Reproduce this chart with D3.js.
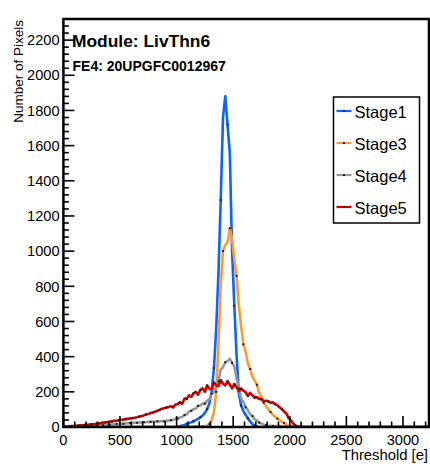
<!DOCTYPE html>
<html>
<head>
<meta charset="utf-8">
<script src="https://cdn.jsdelivr.net/npm/d3@7"></script>
<style>
  html, body { margin: 0; padding: 0; background: #fff; }
  svg { display: block; font-family: "Liberation Sans", Arial, sans-serif; }
</style>
</head>
<body>
<svg id="chart" width="430" height="466"></svg>
<script>
// ---- data ----
const binWidth = 20;
const xMax = 3230;
const yMax = 2320;
const seriesNames = ["Stage1", "Stage3", "Stage4", "Stage5"];
const seriesColors = ["#0a64ff", "#ff9a33", "#999999", "#d10000"];

const stage1 = [
  0,0,0,0,0,0,0,0,0,0, 0,0,0,0,0,0,0,0,0,0, 0,0,0,0,0,0,0,0,0,0,
  0,0,0,0,0,0,0,0,0,0, 0,0,0,0,0,0,0,0,0,0,
  2,4,8,11,17,22,27,33,39,46,
  55,66,80,102,135,205,335,560,880,1290,
  1760,1880,1720,1560,1010,690,410,190,122,92,
  68,50,30,16,7,2,
  0,0,0,0,0,0,0,0,0,0,0,0,0,0,0,0,0,0,0,0,0,0,0,0,0
];
const stage3 = [
  0,0,0,0,0,0,0,0,0,0, 0,0,0,0,0,0,0,0,0,0, 0,0,0,0,0,0,0,0,0,0,
  0,0,0,0,0,0,0,0,0,0, 0,0,0,0,0,0,0,0,0,0, 0,0,0,0,0,
  1,1,2,2,2,
  3,4,6,9,16,40,85,200,470,810,
  1000,1035,1050,1130,1070,950,860,690,575,470,
  430,360,330,285,265,240,195,172,138,120,
  100,85,70,58,48,40,30,22,14,8,
  4,2,1,
  0,0,0,0,0,0,0,0
];
const stage4 = [
  0,0,1,1,2,2,3,3,4,4,
  5,5,6,6,7,8,9,10,11,12,
  13,15,14,17,16,19,18,21,20,23,
  22,25,24,27,25,28,27,30,29,31,
  30,33,31,34,32,36,35,39,40,45,
  48,55,57,68,72,88,92,103,104,120,
  122,134,133,150,158,190,196,232,260,325,
  340,368,375,388,365,345,276,220,166,142,
  112,97,72,62,44,37,25,20,13,11,
  8,7,6,5,5,4,3,2,2,1,
  1,0,0,0,0,0,0,0,0,0,0
];
const stage5 = [
  2,3,4,5,6,7,8,10,10,11,
  12,14,15,16,19,20,22,25,26,28,
  31,32,35,36,38,41,42,45,46,49,
  50,53,55,59,62,66,71,74,79,83,
  87,93,97,104,106,111,113,118,112,128,
  130,140,132,162,160,180,172,192,200,184,
  210,220,200,236,218,214,252,238,232,266,
  246,236,260,242,220,244,226,204,218,208,
  198,178,194,180,168,170,160,158,146,150,
  146,138,140,130,124,112,102,88,76,52,
  38,20,8,3,1,
  0,0,0,0,0,0
];
const seriesValues = [stage1, stage3, stage4, stage5];

const xMajorTicks = [0, 500, 1000, 1500, 2000, 2500, 3000];
const yMajorTicks = [0, 200, 400, 600, 800, 1000, 1200, 1400, 1600, 1800, 2000, 2200];

const titleText = "Module: LivThn6";
const subtitleText = "FE4: 20UPGFC0012967";
const xLabel = "Threshold [e]";
const yLabel = "Number of Pixels";

// ---- layout ----
const svg = d3.select("#chart");
const pLeft = 63.4, pRight = 429, pTop = 19, pBottom = 427;

const x = d3.scaleLinear().domain([0, xMax]).range([pLeft, pRight]);
const y = d3.scaleLinear().domain([0, yMax]).range([pBottom, pTop]);

svg.append("defs").append("clipPath").attr("id", "plotclip")
  .append("rect").attr("x", pLeft).attr("y", pTop - 2)
  .attr("width", pRight - pLeft).attr("height", pBottom - pTop + 3);

// histograms
const plot = svg.append("g").attr("clip-path", "url(#plotclip)");
seriesValues.forEach((vals, si) => {
  const pts = vals.map((v, i) => [i * binWidth + binWidth / 2, v]);
  pts.unshift([0, vals[0]]);
  pts.push([xMax, 0]);
  const line = d3.line().x(d => x(d[0])).y(d => y(d[1]));
  plot.append("path")
    .attr("d", line(pts))
    .attr("fill", "none")
    .attr("stroke", seriesColors[si])
    .attr("stroke-width", 2.6)
    .attr("stroke-linejoin", "round");
});
// black markers
seriesValues.forEach((vals, si) => {
  const pts = vals.map((v, i) => [i * binWidth + binWidth / 2, v])
    .filter((d, i) => i % 3 === (si % 3) && d[1] > 0);
  plot.selectAll(null).data(pts).enter().append("rect")
    .attr("x", d => x(d[0]) - 1)
    .attr("y", d => y(d[1]) - 1)
    .attr("width", 2).attr("height", 2)
    .attr("fill", "#222");
});

// axes ticks (ROOT style, inside)
const axes = svg.append("g").attr("stroke", "#000");
const xMinor = d3.range(0, xMax, 100);
xMinor.forEach(v => {
  const major = v % 500 === 0;
  axes.append("line")
    .attr("x1", x(v)).attr("x2", x(v))
    .attr("y1", pBottom).attr("y2", pBottom - (major ? 11 : 5.5))
    .attr("stroke-width", 1.6);
});
const yMinor = d3.range(0, yMax, 40);
yMinor.forEach(v => {
  const major = v % 200 === 0;
  axes.append("line")
    .attr("y1", y(v)).attr("y2", y(v))
    .attr("x1", pLeft).attr("x2", pLeft + (major ? 11 : 5.5))
    .attr("stroke-width", 1.6);
});

// frame
svg.append("rect")
  .attr("x", pLeft).attr("y", pTop)
  .attr("width", pRight - pLeft).attr("height", pBottom - pTop)
  .attr("fill", "none").attr("stroke", "#000").attr("stroke-width", 2.5);

// tick labels
svg.append("g").selectAll("text").data(xMajorTicks).enter().append("text")
  .attr("x", d => x(d)).attr("y", 444.5)
  .attr("text-anchor", "middle")
  .attr("font-size", 14.6)
  .attr("fill", "#000")
  .text(d => d);
svg.append("g").selectAll("text").data(yMajorTicks).enter().append("text")
  .attr("x", 59.5).attr("y", d => y(d) + 5.2)
  .attr("text-anchor", "end")
  .attr("font-size", 14.6)
  .attr("fill", "#000")
  .text(d => d);

// axis titles
svg.append("text")
  .attr("x", 428).attr("y", 460)
  .attr("text-anchor", "end")
  .attr("font-size", 14.8)
  .text(xLabel);
svg.append("text")
  .attr("transform", "translate(23,20) rotate(-90)")
  .attr("text-anchor", "end")
  .attr("font-size", 13.5)
  .text(yLabel);

// titles
svg.append("text")
  .attr("x", 72).attr("y", 47)
  .attr("font-size", 17.4).attr("font-weight", "bold")
  .text(titleText);
svg.append("text")
  .attr("x", 72.5).attr("y", 70.8)
  .attr("font-size", 14).attr("font-weight", "bold")
  .text(subtitleText);

// legend
const lg = svg.append("g");
lg.append("rect")
  .attr("x", 333.5).attr("y", 97).attr("width", 86).attr("height", 126)
  .attr("fill", "#fff").attr("stroke", "#000").attr("stroke-width", 1.5);
seriesNames.forEach((name, i) => {
  const cy = 111 + i * 32;
  lg.append("line")
    .attr("x1", 336.5).attr("x2", 351.5).attr("y1", cy).attr("y2", cy)
    .attr("stroke", seriesColors[i]).attr("stroke-width", 2.2);
  lg.append("rect")
    .attr("x", 343).attr("y", cy - 1).attr("width", 2).attr("height", 2)
    .attr("fill", "#222");
  lg.append("text")
    .attr("x", 354.5).attr("y", cy + 6.5)
    .attr("font-size", 16.5)
    .text(name);
});
</script>
</body>
</html>
